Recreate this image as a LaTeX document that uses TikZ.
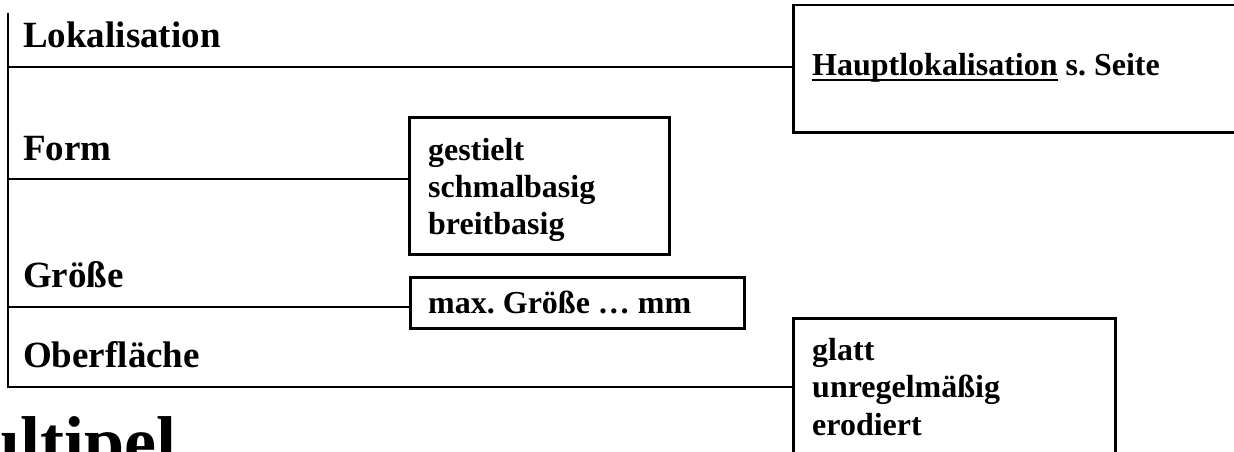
\documentclass[tikz,border=0pt]{standalone}
\usepackage{fontspec}
\setmainfont{Liberation Serif}
\usetikzlibrary{positioning}
\newcommand{\ulword}[1]{\setbox0\hbox{#1}\rlap{\rule[-6.5pt]{\wd0}{2.5pt}}\box0\relax}
\frenchspacing

\begin{document}
\begin{tikzpicture}[x=1pt,y=-1pt,
line/.style={draw,line width=2.5pt,line join=miter},
box/.style={draw,rectangle,line width=2.5pt,inner sep=0pt,anchor=north west},
head/.style={anchor=base west,inner sep=0pt,font=\fontsize{37}{40}\selectfont\bfseries},
entry/.style={anchor=north west,inner sep=0pt,align=left,font=\fontsize{32}{37}\selectfont\bfseries}]
\useasboundingbox (0,0) rectangle (1234,452);
\clip (0,0) rectangle (1234,452);

% boxes on the right
\node (lokbox) [box,minimum width=470pt,minimum height=127pt] at (792,4) {};
\node (formbox) [box,minimum width=260pt,minimum height=137pt] at (408,116) {};
\node (sizebox) [box,minimum width=334pt,minimum height=51pt] at (409,276) {};
\node (surfbox) [box,minimum width=322pt,minimum height=170pt] at (792,317) {};

% headings
\node (lok) [head] at (23,48) {Lokalisation};
\node (form) [head] at (23,160) {Form};
\node (size) [head] at (23,287) {Größe};
\node (surf) [head] at (23,367) {Oberfläche};

% box contents
\node (loktext) [head,font=\fontsize{32}{36}\selectfont\bfseries] at (812,75)
    {\ulword{Hauptlokalisation} s.~Seite};
\node (formtext) [entry] at (428,138)
    {gestielt \\ schmalbasig \\ breitbasig};
\node (sizetext) [head,font=\fontsize{32}{36}\selectfont\bfseries] at (428,313)
    {max. Größe … mm};
\node (surftext) [entry,font=\fontsize{32}{37.5}\selectfont\bfseries] at (812,338)
    {glatt \\ unregelmäßig \\ erodiert};

\node (title) [anchor=base west,inner sep=0pt,font=\fontsize{72}{80}\selectfont\bfseries]
    at (-20,466) {ultipel};

% connectors
\coordinate (top) at (8,13);
\coordinate (s1) at (8,67);
\coordinate (s2) at (8,179);
\coordinate (s3) at (8,307);
\coordinate (s4) at (8,387);
\draw[line] (top) -- (s4) -- (s4 -| surfbox.west);
\draw[line] (s1) -- (s1 -| lokbox.west);
\draw[line] (s2) -- (s2 -| formbox.west);
\draw[line] (s3) -- (s3 -| sizebox.west);

\end{tikzpicture}
\end{document}
